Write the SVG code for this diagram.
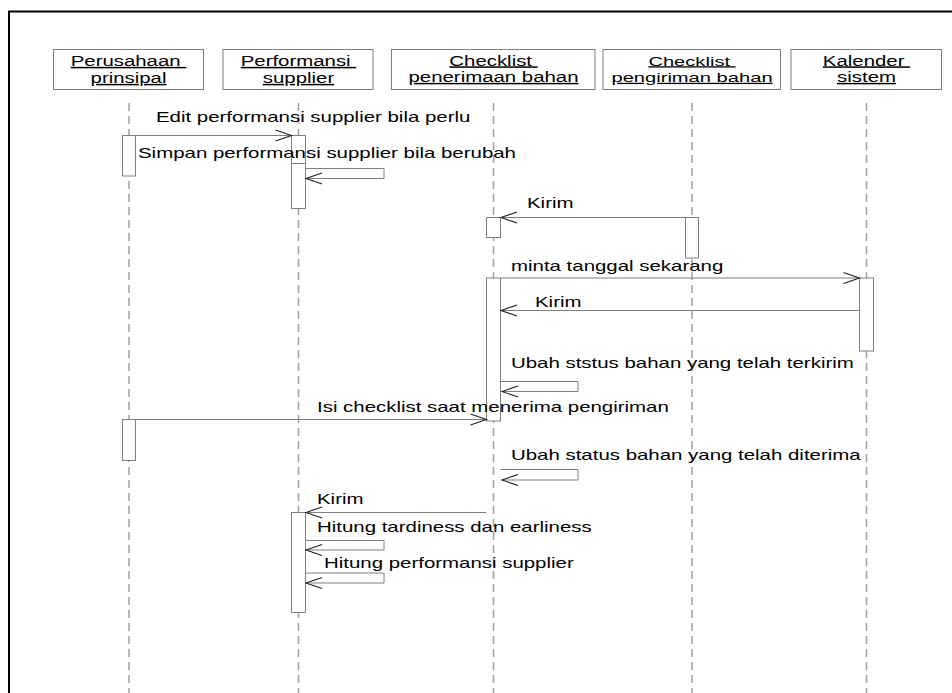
<svg xmlns="http://www.w3.org/2000/svg" width="952" height="693" viewBox="0 0 952 693">
  <style>
    .frame { fill: none; stroke: #000; stroke-width: 2; }
    .head rect { fill: #fff; stroke: #808080; stroke-width: 1; }
    .head text { font-family: "Liberation Sans", Arial, sans-serif; font-size: 15px; fill: #000; text-anchor: middle; text-decoration: underline; white-space: pre; }
    .head text.small { font-size: 13px; }
    .life { stroke: #a0a0a0; stroke-width: 1.5; stroke-dasharray: 8 5; }
    .act { fill: #fff; stroke: #808080; stroke-width: 1; }
    .msg { fill: none; stroke: #808080; stroke-width: 1; marker-end: url(#open); }
    .lbl { font-family: "Liberation Sans", Arial, sans-serif; font-size: 14px; fill: #000; }
  </style>
  <defs>
    <marker id="open" markerUnits="userSpaceOnUse" markerWidth="20" markerHeight="14" viewBox="-17 -7 19 14" refX="0" refY="0" orient="auto">
      <path d="M -16 -5.5 L 0 0 L -16 5.5" fill="none" stroke="#222" stroke-width="1.1"/>
    </marker>
  </defs>
  <rect width="952" height="693" fill="#fff"/>

  <!-- diagram frame -->
  <path class="frame" d="M 9 693 V 11.5 H 952"/>

  <!-- lifelines -->
  <g id="lifelines">
    <line class="life" x1="129" y1="103" x2="129" y2="693"/>
    <line class="life" x1="298.5" y1="103" x2="298.5" y2="693"/>
    <line class="life" x1="493.5" y1="103" x2="493.5" y2="693"/>
    <line class="life" x1="692" y1="103" x2="692" y2="693"/>
    <line class="life" x1="866.5" y1="103" x2="866.5" y2="693"/>
  </g>

  <!-- participants with their activation bars -->
  <g id="perusahaan-prinsipal" class="head">
    <rect x="53.5" y="49.5" width="150" height="40"/>
    <text transform="matrix(1.36 0 0 1 128.5 66)">Perusahaan </text>
    <text transform="matrix(1.36 0 0 1 128.5 83)">prinsipal</text>
    <rect class="act" x="122.5" y="135.5" width="13" height="40.5"/>
    <rect class="act" x="122.5" y="419.5" width="13" height="41"/>
  </g>
  <g id="performansi-supplier" class="head">
    <rect x="223" y="49.5" width="150" height="40"/>
    <text transform="matrix(1.36 0 0 1 298.5 66)">Performansi </text>
    <text transform="matrix(1.36 0 0 1 298.5 83)">supplier</text>
    <rect class="act" x="291.5" y="135.5" width="14" height="28"/>
    <rect class="act" x="291.5" y="163.5" width="14" height="45"/>
    <rect class="act" x="291.5" y="512.5" width="14" height="100"/>
  </g>
  <g id="checklist-penerimaan" class="head">
    <rect x="391.5" y="49.5" width="203.5" height="40"/>
    <text transform="matrix(1.36 0 0 1 493.5 65.5)">Checklist </text>
    <text transform="matrix(1.36 0 0 1 493.5 82)">penerimaan bahan</text>
    <rect class="act" x="486.5" y="217.5" width="14" height="20"/>
    <rect class="act" x="486.5" y="278" width="14" height="143"/>
  </g>
  <g id="checklist-pengiriman" class="head">
    <rect x="603" y="49.5" width="177.5" height="40"/>
    <text class="small" transform="matrix(1.55 0 0 1 692 65.5)">Checklist </text>
    <text class="small" transform="matrix(1.55 0 0 1 692 82)">pengiriman bahan</text>
    <rect class="act" x="685.5" y="217.5" width="13" height="40.5"/>
  </g>
  <g id="kalender-sistem" class="head">
    <rect x="791" y="49.5" width="150.5" height="40"/>
    <text transform="matrix(1.36 0 0 1 866.5 65.5)">Kalender </text>
    <text transform="matrix(1.36 0 0 1 866.5 82)">sistem</text>
    <rect class="act" x="859.5" y="278" width="14" height="73"/>
  </g>

  <!-- messages -->
  <g id="messages">
    <path class="msg" d="M 135.5 135.5 H 291.5"/>
    <path class="msg" d="M 305.5 168.5 H 384 V 178.5 H 306"/>
    <path class="msg" d="M 685.5 217.5 H 501"/>
    <path class="msg" d="M 500.5 278 H 859.5"/>
    <path class="msg" d="M 859.5 310.5 H 501"/>
    <path class="msg" d="M 500.5 381.5 H 578 V 391.5 H 502"/>
    <path class="msg" d="M 135.5 419.5 H 486.5"/>
    <path class="msg" d="M 500.5 469.5 H 578 V 480 H 502"/>
    <path class="msg" d="M 486.5 512.5 H 306"/>
    <path class="msg" d="M 305.5 540.5 H 384 V 550 H 306"/>
    <path class="msg" d="M 305.5 573 H 384 V 583 H 306"/>
  </g>

  <!-- message labels -->
  <g id="labels" class="lbl">
    <text transform="matrix(1.46 0 0 1 156 122)">Edit performansi supplier bila perlu</text>
    <text transform="matrix(1.46 0 0 1 138 157.5)">Simpan performansi supplier bila berubah</text>
    <text transform="matrix(1.46 0 0 1 527 208)">Kirim</text>
    <text transform="matrix(1.46 0 0 1 511 271)">minta tanggal sekarang</text>
    <text transform="matrix(1.46 0 0 1 535 306.5)">Kirim</text>
    <text transform="matrix(1.46 0 0 1 511 367.5)">Ubah ststus bahan yang telah terkirim</text>
    <text transform="matrix(1.46 0 0 1 317 411.5)">Isi checklist saat menerima pengiriman</text>
    <text transform="matrix(1.46 0 0 1 511 460)">Ubah status bahan yang telah diterima</text>
    <text transform="matrix(1.46 0 0 1 317 504)">Kirim</text>
    <text transform="matrix(1.46 0 0 1 317 532)">Hitung tardiness dan earliness</text>
    <text transform="matrix(1.46 0 0 1 324 568)">Hitung performansi supplier</text>
  </g>
</svg>
